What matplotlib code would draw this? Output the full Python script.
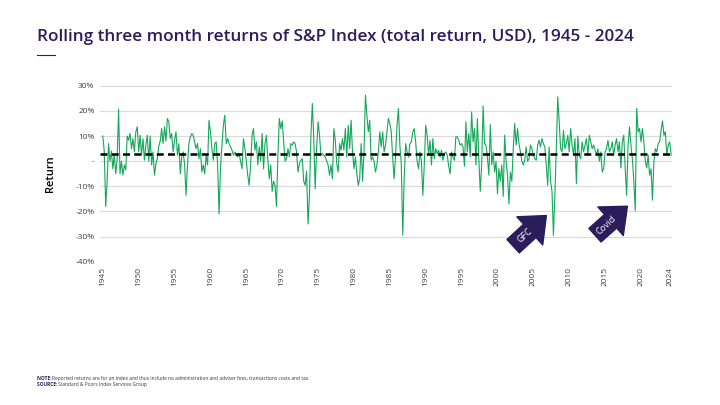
import numpy as np
import matplotlib
matplotlib.use("Agg")
import matplotlib.pyplot as plt
from matplotlib.patches import FancyArrowPatch
from matplotlib.ticker import FuncFormatter

plt.rcParams["font.family"] = ["Open Sans", "DejaVu Sans"]

# rolling 3 month return (%), 5 readings per year from 1945
returns_pct = [
    10, 4, -18, -8, 7,          # 1945
    0, 4, -3, 2.5, -5,          # 1946
    1, 20.7, -5, 0, -5.5,       # 1947
    -1.5, -3.5, 10, 8.3, 11,    # 1948
    5, 9, 3.7, 11.7, 13.7,      # 1949
    3.7, 10.3, 2.4, 9, 0.4,     # 1950
    6.4, 10.3, 0, 10, -1.5,     # 1951
    3.7, -5.6, -1, 1, 6,        # 1952
    8, 13, 7, 13.7, 8,          # 1953
    17, 15.7, 9, 11, 3.7,       # 1954
    8.3, 11.7, 2.4, 7, -5,      # 1955
    1.7, 3.7, -1.5, -13.6, -1.5,  # 1956
    7, 9.7, 11, 10.3, 7.7,      # 1957
    5, 7, 1, 5, -4.3,           # 1958
    -1.5, -5, 2.4, -1.5, 16.3,  # 1959
    11.7, 5, 0.4, 7, 7.7,       # 1960
    -1.5, -21, -3, 6.4, 14.3,   # 1961
    18.3, 7, 9, 7, 5.7,         # 1962
    4.4, 2.4, 3.7, 2.4, 1.7,    # 1963
    3, 0, -3, 9, 5,             # 1964
    0, -5.6, -9.6, -1.5, 10.3,  # 1965
    13, 4.4, 7.7, -1.5, 5.7,    # 1966
    0, 11, -3, 7, 10.3,         # 1967
    0.4, -7, -1.5, -12, -8,     # 1968
    -9.6, -18, 2, 17, 13,       # 1969
    16, 7.7, 0, 1, 5,           # 1970
    1.7, 7, 6.4, 7.7, 7,        # 1971
    3.7, -4.3, -1, 0.4, 1,      # 1972
    -8, -9.6, -4, -25, -13.6,   # 1973
    10, 23, 9, -11, 5,          # 1974
    15.7, 10.3, 2.4, 3, 2.4,    # 1975
    1.7, 0, -1.5, -5.6, -1.5,   # 1976
    -7, 13, 8.3, -1, -4.3,      # 1977
    7, 4.4, 9, 4.4, 13,         # 1978
    1.7, 14.3, 5, 16.3, 3.7,    # 1979
    -3, 1.7, -5, -9.6, -7,      # 1980
    7, -8, 3.7, 26.3, 18.3,     # 1981
    11.7, 16.3, 0.4, 1.7, 0,    # 1982
    -4.3, -1.5, 3.7, 11.7, 5.7,  # 1983
    11.7, 3.7, 6.4, 11.7, 17,   # 1984
    15, 11.7, 1, -7, 2.4,       # 1985
    14.3, 21, 6.4, -1.5, -29.5,  # 1986
    -7, 7, 3.7, 1.7, 7,         # 1987
    7.7, 11.7, 13, 7.7, 0,      # 1988
    -3, 3.7, 0, -13.6, -1.5,    # 1989
    14.3, 10.3, 2.4, 8.3, -1.5,  # 1990
    9, 1, 5, 3, 4.4,            # 1991
    1.7, 4.4, 0.4, 3, 3.7,      # 1992
    2.4, -2, -5, 3.7, 1.7,      # 1993
    0.4, 9.7, 9.7, 8.3, 6.4,    # 1994
    7, 5.7, -2, 15.7, 3.7,      # 1995
    11, 1.7, 19.6, 7.7, 13,     # 1996
    -1.5, 17, 1, -12, -1.5,     # 1997
    22, 7, 6.4, 1.7, -5.6,      # 1998
    14.6, -1.5, 3.7, -4.3, 0,   # 1999
    -13, -3, -8, -1.5, -14,     # 2000
    10.3, 0, -5.6, -17, -4.3,   # 2001
    -8, 5, 15, 6.4, 13,         # 2002
    7, 3.7, 0, -1.5, 0.4,       # 2003
    5.7, 0, 1, 6.4, 5,          # 2004
    2.4, 1, 0.4, 6.4, 8.3,      # 2005
    5.7, 9, 7, 5.7, -1.5,       # 2006
    -9.6, 5.7, -8, -12, -29.5,  # 2007
    -13.6, 5, 25.6, 15.7, 5,    # 2008
    3.7, 12.3, 5, 7, 10.3,      # 2009
    3.7, 13, 6.4, 2.4, 9,       # 2010
    -9, 10, 2.4, 1, 7.7,        # 2011
    3.7, 6.4, 9, 2.4, 10.3,     # 2012
    7.7, 5, 6.4, 4.4, 2.4,      # 2013
    5, 0, 3.7, -4.3, -3,        # 2014
    3.7, 5, 8.3, 3.7, 5,        # 2015
    7.7, 2.4, 6.4, 9, 3.7,      # 2016
    7.7, -2.7, 7.7, 10.3, -2.7,  # 2017
    -13.6, 6.4, 13.7, 6.4, 1,   # 2018
    -8, -19.6, 21, 11.7, 13,    # 2019
    7.7, 13, 7.7, 0, -2.7,      # 2020
    2.4, -5.6, -3, -15.5, 0,    # 2021
    5, 3.7, 7, 7.7, 12.3,       # 2022
    16, 10.3, 11.7, 2.4, 6.4,   # 2023
    7.7, 2.4,                   # 2024
]
average_pct = 2.9
start_year = 1945
readings_per_year = 5

year_ticks = [1945, 1950, 1955, 1960, 1965, 1970, 1975, 1980, 1985, 1990,
              1995, 2000, 2005, 2010, 2015, 2020, 2024]
y_ticks_pct = [30, 20, 10, 0, -10, -20, -30, -40]

# (label, tail year, tail value, tip year, tip value)
arrows = [
    ("GFC", 2001.9, -34.6, 2007.1, -20.9),
    ("Covid", 2013.3, -30.2, 2018.4, -17.2),
]

title = "Rolling three month returns of S&P Index (total return, USD), 1945 - 2024"
note_text = "Reported returns are for an index and thus include no administration and adviser fees, transactions costs and tax."
source_text = "Standard & Poors Index Services Group"

purple = "#2b1c5c"
green = "#14a85a"

years = start_year + np.arange(len(returns_pct)) / readings_per_year
values = np.array(returns_pct) / 100

fig = plt.figure(figsize=(7.2, 4.05), dpi=100)
ax = fig.add_axes([0.139, 0.354, 0.794, 0.434])

ax.plot(years, values, color=green, lw=0.8)
ax.axhline(average_pct / 100, color="k", lw=1.8, ls=(0, (2.8, 1.7)))

ax.set_xlim(1944.62, 2024.29)
ax.set_ylim(-0.40, 0.30)
ax.set_yticks(np.array(y_ticks_pct) / 100)
ax.yaxis.set_major_formatter(FuncFormatter(lambda v, p: "-" if abs(v) < 1e-9 else f"{v*100:.0f}%"))
ax.set_xticks(year_ticks)
ax.set_xticklabels([str(y) for y in year_ticks], rotation=90)
ax.tick_params(axis="both", length=0, labelsize=6, colors="#404040", pad=4)
ax.grid(axis="y", color="#d9d9d9", lw=0.8)
ax.set_axisbelow(True)
for s in ax.spines.values():
    s.set_visible(False)
ax.set_ylabel("Return", fontsize=8, color="black", weight="semibold", labelpad=14)

for label, x0, y0, x1, y1 in arrows:
    arr = FancyArrowPatch((x0, y0 / 100), (x1, y1 / 100),
                          arrowstyle="simple,head_length=1.3,head_width=2.2,tail_width=1.05",
                          mutation_scale=12.5, fc=purple, ec=purple, zorder=5)
    ax.add_patch(arr)
    ax.text(x0 + (x1 - x0) * 0.36, (y0 + (y1 - y0) * 0.36) / 100, label,
            color="white", fontsize=6.5, rotation=43, ha="center", va="center", zorder=6)

fig.text(0.051, 0.908, title, fontsize=12.3, color=purple, weight="semibold", va="center")
fig.add_artist(plt.Line2D([0.051, 0.077], [0.864, 0.864], color=purple, lw=0.8))

# footnote: bold lead word followed directly by the text
fig.canvas.draw()
r = fig.canvas.get_renderer()
for lead, body, yy in [("NOTE: ", note_text, 0.066), ("SOURCE: ", source_text, 0.050)]:
    t = fig.text(0.051, yy, lead, fontsize=3.5, color=purple, weight="bold", va="center")
    w = t.get_window_extent(r).width / fig.bbox.width
    fig.text(0.051 + w, yy, body, fontsize=3.5, color="#333333", va="center")

fig.savefig("out.png", dpi=100)
